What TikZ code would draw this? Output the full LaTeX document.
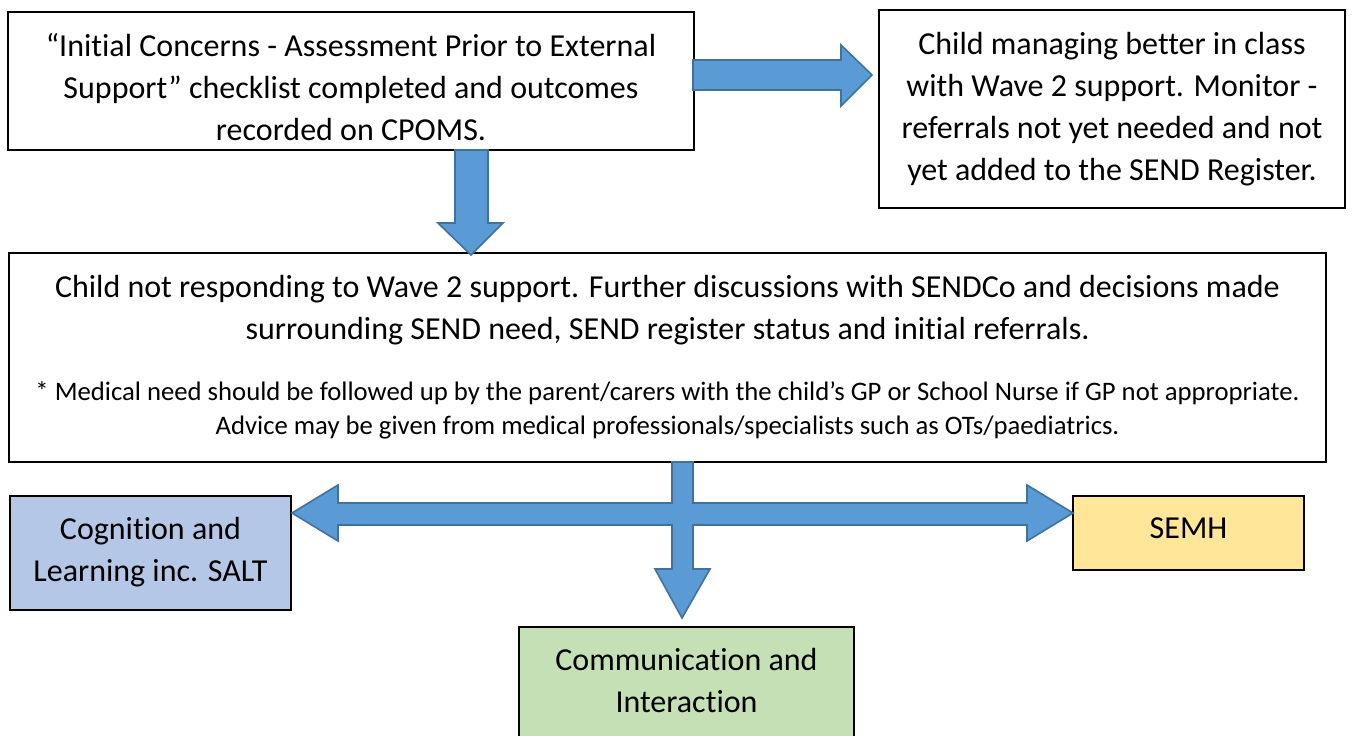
\documentclass[tikz,border=0pt]{standalone}
\usepackage{fontspec}
\setmainfont{Carlito}[Ligatures=NoCommon]
\definecolor{arrowfill}{HTML}{5B9BD5}
\definecolor{arrowline}{HTML}{41719C}
\definecolor{cogfill}{HTML}{B4C7E7}
\definecolor{semhfill}{HTML}{FFE699}
\definecolor{commfill}{HTML}{C5E0B4}
\newcommand\mystrut[1]{\rule{0pt}{#1}}
\begin{document}
\begin{tikzpicture}[x=1pt,y=-1pt,
  box/.style={draw=black,line width=1.6pt,fill=white,inner sep=0pt,rectangle},
  bigtext/.style={anchor=north,align=center,inner sep=0pt,font=\fontsize{32pt}{42pt}\selectfont},
  smalltext/.style={anchor=north,align=center,inner sep=0pt,font=\fontsize{26.7pt}{34pt}\selectfont},
  blockarrow/.style={fill=arrowfill,draw=arrowline,line width=1.6pt,line join=miter}]
\useasboundingbox (0,0) rectangle (1352,736);
% boxes
\node[box,minimum width=686pt,minimum height=138pt] (boxA) at (351,81) {};
\node[box,minimum width=466pt,minimum height=198pt] (boxB) at (1112,109) {};
\node[box,minimum width=1317pt,minimum height=209pt] (boxC) at (667.5,357.5) {};
\node[box,fill=cogfill,minimum width=281pt,minimum height=114pt] (boxD) at (150.5,553) {};
\node[box,fill=semhfill,minimum width=231pt,minimum height=74pt] (boxE) at (1188.5,533) {};
\node[box,fill=commfill,minimum width=335pt,minimum height=143pt] (boxF) at (686.5,698.5) {};
% texts
\node[bigtext] (tA) at (351,26) {\mystrut{30pt}“Initial Concerns - Assessment Prior to External\\Support” checklist completed and outcomes\\recorded on CPOMS.};
\node[bigtext] (tB) at (1112,24) {\mystrut{30pt}Child managing better in class\\with Wave 2 support. Monitor -\\referrals not yet needed and not\\yet added to the SEND Register.};
\node[bigtext] (tC) at (667.5,267) {\mystrut{30pt}Child not responding to Wave 2 support. Further discussions with SENDCo and decisions made\\surrounding SEND need, SEND register status and initial referrals.};
\node[smalltext] (tC2) at (667.5,377) {\mystrut{23pt}* Medical need should be followed up by the parent/carers with the child’s GP or School Nurse if GP not appropriate.\\Advice may be given from medical professionals/specialists such as OTs/paediatrics.};
\node[bigtext] (tD) at (150.5,509) {\mystrut{30pt}Cognition and\\Learning inc. SALT};
\node[bigtext] (tE) at (1188.5,508) {\mystrut{30pt}SEMH};
\node[bigtext] (tF) at (686.5,640) {\mystrut{30pt}Communication and\\Interaction};
% arrows
\draw[blockarrow] (693,60) -- (841,60) -- (841,45) -- (872,75) -- (841,106) -- (841,90) -- (693,90) -- cycle;
\draw[blockarrow] (455,150) -- (455,223) -- (438,223) -- (471,255) -- (503,223) -- (488,223) -- (488,150) -- cycle;
\draw[blockarrow] (672,462) -- (693,462) -- (693,503) -- (1027,503) -- (1027,485) -- (1073,513) -- (1027,541) -- (1027,525) -- (693,525) -- (693,569) -- (710,569) -- (682,618) -- (655,569) -- (672,569) -- (672,525) -- (338,525) -- (338,541) -- (292,513) -- (338,485) -- (338,503) -- (672,503) -- cycle;
\end{tikzpicture}
\end{document}
